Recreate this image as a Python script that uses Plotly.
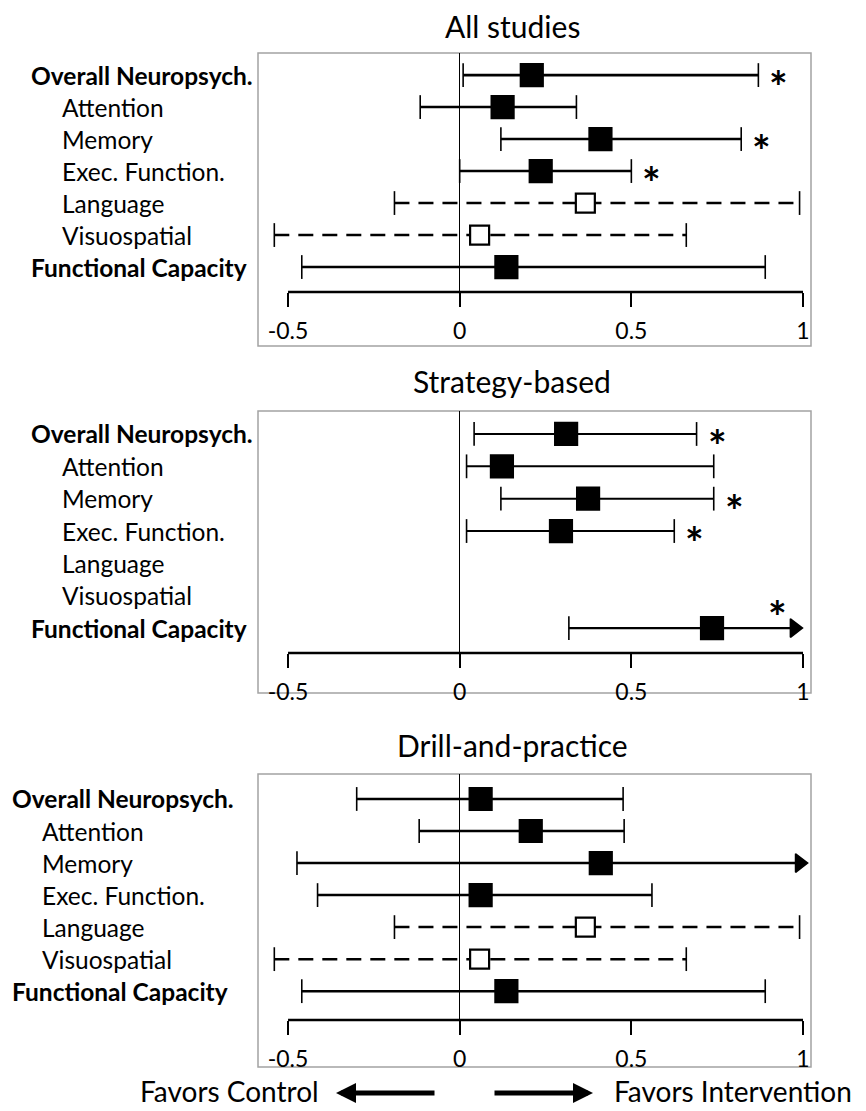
import plotly.graph_objects as go

# The page body has an 8px default margin, so the figure is sized to fill the
# remaining window and all pixel positions below are given in window pixels.
WIN_W, WIN_H = 866, 1111
OFF = 8
W, H = WIN_W - OFF, WIN_H - OFF
FONT = "Lato"

# ---------------- data ----------------
categories = ["Overall Neuropsych.", "Attention", "Memory", "Exec. Function.",
              "Language", "Visuospatial", "Functional Capacity"]
is_main = [True, False, False, False, False, False, True]

panel_titles = ["All studies", "Strategy-based", "Drill-and-practice"]

# All studies
all_est = [0.21, 0.125, 0.41, 0.236, 0.366, 0.058, 0.136]
all_lo = [0.01, -0.115, 0.12, 0.0, -0.19, -0.54, -0.46]
all_hi = [0.87, 0.34, 0.82, 0.50, 0.99, 0.66, 0.89]
all_dashed = [False, False, False, False, True, True, False]
all_arrow = [False, False, False, False, False, False, False]
all_sig = [True, False, True, True, False, False, False]

# Strategy-based
strat_est = [0.31, 0.123, 0.374, 0.295, None, None, 0.735]
strat_lo = [0.042, 0.02, 0.12, 0.02, None, None, 0.318]
strat_hi = [0.69, 0.74, 0.74, 0.625, None, None, 0.975]
strat_dashed = [False, False, False, False, False, False, False]
strat_arrow = [False, False, False, False, False, False, True]
strat_sig = [True, False, True, True, False, False, True]

# Drill-and-practice
drill_est = [0.061, 0.207, 0.411, 0.061, 0.366, 0.058, 0.136]
drill_lo = [-0.30, -0.118, -0.474, -0.414, -0.19, -0.54, -0.46]
drill_hi = [0.476, 0.479, 0.99, 0.56, 0.99, 0.66, 0.89]
drill_dashed = [False, False, False, False, True, True, False]
drill_arrow = [False, False, True, False, False, False, False]
drill_sig = [False, False, False, False, False, False, False]

x_tickvals = [-0.5, 0, 0.5, 1]
x_ticktext = ["-0.5", "0", "0.5", "1"]

panels = [
    (all_est, all_lo, all_hi, all_dashed, all_arrow, all_sig),
    (strat_est, strat_lo, strat_hi, strat_dashed, strat_arrow, strat_sig),
    (drill_est, drill_lo, drill_hi, drill_dashed, drill_arrow, drill_sig),
]

# ---------------- layout geometry (window pixels) ----------------
geom = [
    dict(box_top=53, axis_y=292, box_bot=346, title_y=26, lab_main=29, lab_sub=60,
         yr=[6.78, -0.69], lw=2.6),
    dict(box_top=411, axis_y=653, box_bot=693, title_y=381, lab_main=29, lab_sub=60,
         yr=[6.77, -0.71], lw=2.1),
    dict(box_top=774, axis_y=1020, box_bot=1067, title_y=745, lab_main=10, lab_sub=40,
         yr=[6.9, -0.78], lw=2.5),
]
BOX_L, BOX_R = 258, 811
XR = [-0.5875, 1.0233]


def px(xp):
    return (xp - OFF) / W


def py(yp):
    return 1 - (yp - OFF) / H


fig = go.Figure()
shapes = []
annotations = []

for k, (est, lo, hi, dashed, arrow, sig) in enumerate(panels, start=1):
    g = geom[k - 1]
    xa = "x" if k == 1 else f"x{k}"
    ya = "y" if k == 1 else f"y{k}"

    # whisker lines (solid / dashed)
    for dash_flag in (False, True):
        xs, ys = [], []
        for i in range(len(categories)):
            if est[i] is None or dashed[i] != dash_flag:
                continue
            xs += [lo[i], hi[i], None]
            ys += [i, i, None]
        if xs:
            fig.add_trace(go.Scatter(
                x=xs, y=ys, mode="lines", xaxis=xa, yaxis=ya,
                line=dict(color="black", width=g["lw"], dash="15px,9px" if dash_flag else "solid"),
                hoverinfo="skip", cliponaxis=False))

    # caps and arrow heads
    cx, cy, csym, csize = [], [], [], []
    for i in range(len(categories)):
        if est[i] is None:
            continue
        cx.append(lo[i]); cy.append(i); csym.append("line-ns"); csize.append(17)
        cx.append(hi[i]); cy.append(i)
        if arrow[i]:
            csym.append("triangle-right"); csize.append(16)
        else:
            csym.append("line-ns"); csize.append(17)
    fig.add_trace(go.Scatter(
        x=cx, y=cy, mode="markers", xaxis=xa, yaxis=ya, cliponaxis=False,
        marker=dict(symbol=csym, size=csize, color="black", opacity=1,
                    line=dict(color="black", width=1.6)),
        hoverinfo="skip"))

    # point estimates
    mx, my, mcol, msz = [], [], [], []
    for i in range(len(categories)):
        if est[i] is None:
            continue
        mx.append(est[i]); my.append(i)
        mcol.append("white" if dashed[i] else "black")
        msz.append(19 if dashed[i] else 22)
    fig.add_trace(go.Scatter(
        x=mx, y=my, mode="markers", xaxis=xa, yaxis=ya, cliponaxis=False,
        marker=dict(symbol="square", size=msz, color=mcol, opacity=1,
                    line=dict(color="black", width=2.2)),
        hoverinfo="skip"))

    # significance stars
    for i in range(len(categories)):
        if not sig[i]:
            continue
        if arrow[i]:
            sx, sy = hi[i] - 0.05, i - 0.72
        else:
            sx, sy = hi[i] + 0.06, i
        annotations.append(dict(
            x=sx, y=sy, xref=xa, yref=ya, text="<b>*</b>", showarrow=False,
            xanchor="center", yanchor="middle", yshift=-11,
            font=dict(family=FONT, size=44, color="black")))

    # row labels
    for i, name in enumerate(categories):
        annotations.append(dict(
            x=px(g["lab_main"] if is_main[i] else g["lab_sub"]), y=i,
            xref="paper", yref=ya, xanchor="left", yanchor="middle",
            text=f"<b>{name}</b>" if is_main[i] else name, showarrow=False,
            font=dict(family=FONT, size=24.5, color="black")))

    # panel title
    annotations.append(dict(
        x=px(512), y=py(g["title_y"]), xref="paper", yref="paper",
        xanchor="center", yanchor="middle", text=panel_titles[k - 1],
        showarrow=False, borderpad=0, font=dict(family=FONT, size=30, color="black")))

    # frame box
    shapes.append(dict(type="rect", xref="paper", yref="paper",
                       x0=px(BOX_L), x1=px(BOX_R), y0=py(g["box_bot"]), y1=py(g["box_top"]),
                       line=dict(color="#a3a3a3", width=1.5), fillcolor="rgba(0,0,0,0)",
                       layer="below"))
    # axis line from -0.5 to 1
    shapes.append(dict(type="line", xref=xa, yref=f"{ya} domain",
                       x0=x_tickvals[0], x1=x_tickvals[-1], y0=0, y1=0,
                       line=dict(color="black", width=2.6)))

    fig.update_layout(**{
        ("xaxis" if k == 1 else f"xaxis{k}"): dict(
            domain=[px(BOX_L), px(BOX_R)], range=XR, anchor=ya,
            tickvals=x_tickvals, ticktext=x_ticktext, ticks="outside",
            ticklen=14, tickwidth=1.5, tickcolor="black", showline=False,
            showgrid=False, zeroline=True, zerolinecolor="black", zerolinewidth=1.3,
            ticklabelstandoff=4,
            tickfont=dict(family=FONT, size=23, color="black"), fixedrange=True),
        ("yaxis" if k == 1 else f"yaxis{k}"): dict(
            domain=[py(g["axis_y"]), py(g["box_top"])], range=g["yr"], anchor=xa,
            visible=False, fixedrange=True),
    })

# bottom direction labels
BOT_Y = 1091
annotations.append(dict(x=px(321), y=py(BOT_Y), xref="paper", yref="paper",
                        xanchor="right", yanchor="middle", text="Favors Control",
                        showarrow=False, font=dict(family=FONT, size=28, color="black")))
annotations.append(dict(x=px(612), y=py(BOT_Y), xref="paper", yref="paper",
                        xanchor="left", yanchor="middle", text="Favors Intervention",
                        showarrow=False, font=dict(family=FONT, size=28, color="black")))
annotations.append(dict(x=px(336), y=py(BOT_Y + 2), xref="paper", yref="paper",
                        ax=100, ay=0, axref="pixel", ayref="pixel", text="",
                        showarrow=True, arrowhead=2, arrowsize=0.8, arrowwidth=5,
                        arrowcolor="black"))
annotations.append(dict(x=px(593), y=py(BOT_Y + 2), xref="paper", yref="paper",
                        ax=-100, ay=0, axref="pixel", ayref="pixel", text="",
                        showarrow=True, arrowhead=2, arrowsize=0.8, arrowwidth=5,
                        arrowcolor="black"))

fig.update_layout(
    width=W, height=H, margin=dict(l=0, r=0, t=0, b=0),
    paper_bgcolor="white", plot_bgcolor="white", showlegend=False,
    shapes=shapes, annotations=annotations,
    font=dict(family=FONT, color="black"),
)

fig.write_html("out.html")
